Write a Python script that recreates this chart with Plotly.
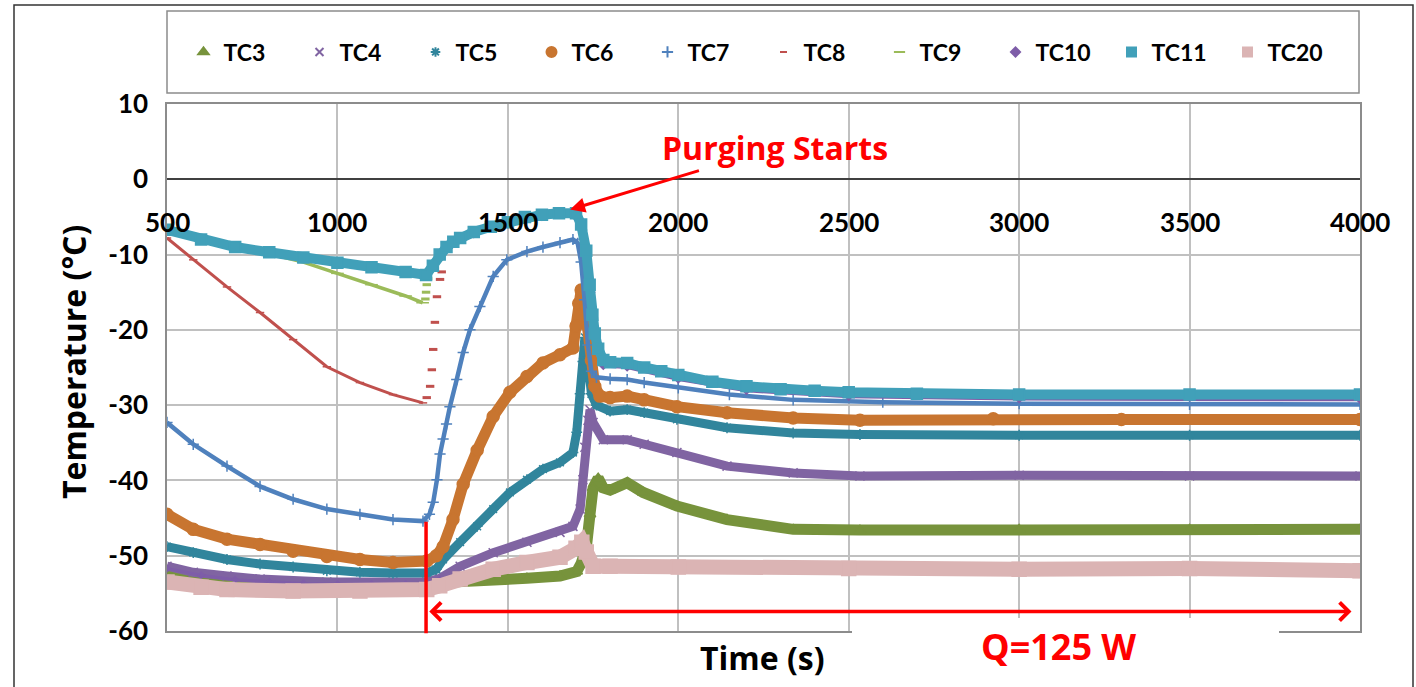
import plotly.graph_objects as go

# ---------------- data ----------------
TC3_T = [500, 600, 700, 800, 900, 1000, 1100, 1200, 1262, 1300, 1360, 1457, 1556, 1653, 1702, 1715, 1730, 1741, 1750, 1765, 1780, 1800, 1850, 1897, 1996, 2143, 2337, 2533, 3000, 3500, 4000]
TC3_V = [-52.2, -52.8, -53.2, -53.5, -53.7, -53.8, -53.8, -53.8, -53.7, -53.5, -53.5, -53.4, -53.0, -52.7, -52.1, -51.0, -49.0, -44.5, -41.0, -39.7, -41.0, -41.3, -40.3, -41.6, -43.4, -45.2, -46.5, -46.6, -46.5, -46.5, -46.5]

TC4_T = [500, 577, 676, 773, 969, 1163, 1262, 1300, 1360, 1457, 1556, 1653, 1691, 1712, 1720, 1726, 1735, 1741, 1750, 1780, 1850, 1900, 1996, 2143, 2337, 2533, 3000, 3500, 4000]
TC4_V = [-51.4, -52.2, -52.7, -53.1, -53.5, -53.5, -53.5, -53.0, -51.4, -49.6, -48.2, -46.9, -46.1, -43.8, -39.9, -35.6, -32.0, -30.6, -32.3, -34.6, -34.6, -35.2, -36.3, -38.1, -39.0, -39.4, -39.3, -39.4, -39.4]

TC5_T = [500, 577, 676, 773, 870, 969, 1066, 1163, 1262, 1290, 1310, 1360, 1410, 1457, 1506, 1556, 1603, 1653, 1691, 1702, 1712, 1720, 1726, 1735, 1745, 1760, 1800, 1850, 1900, 1996, 2143, 2337, 2533, 3000, 3500, 4000]
TC5_V = [-48.8, -49.6, -50.5, -51.1, -51.5, -52.0, -52.2, -52.3, -52.3, -51.8, -50.5, -48.2, -46.1, -43.8, -41.6, -39.9, -38.5, -37.6, -36.3, -33.6, -28.5, -24.2, -21.0, -24.0, -28.5, -30.0, -30.8, -30.6, -31.0, -31.9, -33.0, -33.7, -33.9, -34.0, -34.0, -34.0]

TC6_T = [500, 577, 676, 773, 870, 969, 1066, 1163, 1262, 1290, 1310, 1339, 1369, 1410, 1457, 1506, 1556, 1603, 1653, 1691, 1700, 1708, 1715, 1725, 1735, 1745, 1755, 1770, 1800, 1850, 1900, 1996, 2143, 2337, 2533, 2924, 3300, 4000]
TC6_V = [-44.5, -46.5, -47.8, -48.5, -49.4, -50.1, -50.5, -50.9, -50.7, -50.0, -48.8, -45.2, -40.5, -36.0, -31.5, -28.3, -26.2, -24.4, -23.3, -22.4, -19.5, -16.5, -14.7, -16.5, -19.5, -24.0, -27.5, -28.8, -29.0, -28.8, -29.3, -30.2, -31.0, -31.7, -32.0, -31.8, -31.9, -31.9]

TC7_T = [500, 577, 676, 773, 870, 969, 1066, 1163, 1251, 1270, 1281, 1292, 1301, 1310, 1320, 1330, 1350, 1369, 1389, 1418, 1457, 1497, 1556, 1603, 1653, 1691, 1705, 1715, 1725, 1735, 1745, 1760, 1800, 1850, 1900, 2000, 2150, 2337, 2600, 3000, 3500, 4000]
TC7_V = [-32.3, -35.2, -38.1, -40.8, -42.5, -43.8, -44.5, -45.2, -45.4, -44.5, -42.9, -39.9, -36.5, -34.5, -32.5, -30.2, -26.6, -23.0, -20.0, -16.9, -12.9, -10.7, -9.6, -9.0, -8.4, -8.0, -8.5, -11.0, -16.0, -22.0, -25.5, -26.3, -26.5, -26.6, -27.0, -27.7, -28.6, -29.3, -29.6, -29.8, -29.9, -29.9]

TC8_T = [500, 577, 676, 773, 870, 969, 1066, 1163, 1251]
TC8_V = [-7.8, -10.7, -14.3, -17.7, -21.3, -24.9, -27.0, -28.6, -29.7]
TC8_JUMP_T = [1262, 1272, 1277, 1281, 1286, 1292, 1301, 1306]
TC8_JUMP_V = [-29.0, -27.5, -25.3, -22.6, -19.0, -15.6, -13.3, -12.3]

TC9_T = [500, 600, 700, 800, 900, 1000, 1100, 1200, 1250]
TC9_V = [-6.7, -8.0, -9.0, -9.9, -11.0, -12.5, -14.0, -15.5, -16.4]
TC9_JUMP_T = [1258, 1260, 1262, 1266]
TC9_JUMP_V = [-15.9, -15.0, -14.0, -13.2]

TC10_T = [500, 600, 700, 800, 900, 1000, 1100, 1200, 1260, 1300, None, 1330, 1400, 1500, 1600, 1690, 1715, 1730, 1745, 1760, 1780, 1850, 2000, 2200, 2500, 3000, 4000]
TC10_V = [-51.7, -52.6, -53.2, -53.5, -53.7, -53.8, -53.8, -53.8, -53.7, -53.2, None, -9.0, -7.3, -6.0, -5.0, -4.7, -6.5, -10.0, -15.0, -21.0, -24.8, -25.0, -26.6, -28.1, -28.9, -29.2, -29.3]

TC11_T = [500, 600, 700, 800, 900, 1000, 1100, 1200, 1260, 1280, 1300, 1320, 1340, 1360, 1400, 1450, 1500, 1550, 1600, 1650, 1700, 1715, 1730, 1740, 1748, 1755, 1765, 1780, 1800, 1850, 1900, 1950, 2000, 2100, 2200, 2300, 2400, 2500, 2700, 3000, 3500, 4000]
TC11_V = [-6.7, -8.0, -9.0, -9.7, -10.4, -11.1, -11.7, -12.3, -12.7, -11.5, -10.0, -9.0, -8.3, -7.8, -7.0, -6.3, -5.7, -5.0, -4.7, -4.5, -4.5, -6.0, -9.5, -14.0, -18.0, -20.5, -22.5, -24.0, -24.3, -24.4, -25.0, -25.5, -26.0, -26.9, -27.5, -27.9, -28.1, -28.3, -28.5, -28.6, -28.6, -28.6]

TC20_T = [500, 600, 676, 870, 1066, 1262, 1300, 1360, 1457, 1556, 1653, 1700, 1717, 1730, 1750, 1800, 2000, 2500, 3000, 3500, 4000]
TC20_V = [-53.5, -54.2, -54.5, -54.7, -54.7, -54.5, -54.0, -53.1, -51.8, -50.9, -50.2, -49.0, -48.2, -49.5, -51.4, -51.4, -51.5, -51.7, -51.8, -51.7, -52.0]

X_TICKS = [500, 1000, 1500, 2000, 2500, 3000, 3500, 4000]
X_TICK_LABELS = ["500", "1000", "1500", "2000", "2500", "3000", "3500", "4000"]
Y_TICKS = [10, 0, -10, -20, -30, -40, -50, -60]
Y_TICK_LABELS = ["10", "0", "-10", "-20", "-30", "-40", "-50", "-60"]

PURGE_TIME = 1260          # red vertical line
PURGE_LINE_TOP = -45.5
HEAT_ARROW_START = 1265    # Q=125 W arrow
HEAT_ARROW_END = 3975
HEAT_ARROW_Y = -57.4
PURGE_POINT = (1677, -4.1)  # "Purging Starts" arrow tip
PURGE_TEXT = (2284, 4.2)

FONT = "Lato, 'Open Sans', sans-serif"
TITLE_FONT = "'Open Sans', Lato, sans-serif"

# series: name, x, y, color, symbol, marker size, line width
SERIES = [
    ("TC3", TC3_T, TC3_V, "#77933C", "triangle-up", 10, 11),
    ("TC4", TC4_T, TC4_V, "#8064A2", "x-thin-open", 9, 9),
    ("TC5", TC5_T, TC5_V, "#31859C", "asterisk-open", 9, 9),
    ("TC6", TC6_T, TC6_V, "#C87530", "circle", 12, 11),
    ("TC7", TC7_T, TC7_V, "#4F81BD", "cross-thin-open", 8, 4.5),
    ("TC8", TC8_T, TC8_V, "#C0504D", "line-ew-open", 6, 3),
    ("TC9", TC9_T, TC9_V, "#9BBB59", "line-ew-open", 9, 3.5),
    ("TC10", TC10_T, TC10_V, "#7E5DA8", "diamond", 5, 3),
    ("TC11", TC11_T, TC11_V, "#41A0B9", "square", 11, 10),
    ("TC20", TC20_T, TC20_V, "#DBB4B4", "square", 14, 15),
]
JUMPS = {"TC8": (TC8_JUMP_T, TC8_JUMP_V), "TC9": (TC9_JUMP_T, TC9_JUMP_V)}

fig = go.Figure()

for name, xs, ys, color, sym, msize, lw in SERIES:
    fig.add_trace(go.Scatter(
        x=xs, y=ys, mode="lines+markers", name=name, showlegend=False,
        line=dict(color=color, width=lw),
        marker=dict(symbol=sym, size=msize, color=color, line=dict(color=color, width=1.5)),
        connectgaps=False, hoverinfo="skip",
    ))
    if name in JUMPS:
        jx, jy = JUMPS[name]
        fig.add_trace(go.Scatter(
            x=jx, y=jy, mode="markers", name=name, showlegend=False,
            marker=dict(symbol="line-ew-open", size=6, color=color, line=dict(color=color, width=3)),
            hoverinfo="skip",
        ))

# legend-only entries (markers like the reference legend)
LEGEND_SIZES = {"TC3": 9, "TC4": 8, "TC5": 8, "TC6": 10, "TC7": 8, "TC8": 5, "TC9": 8, "TC10": 7, "TC11": 9, "TC20": 9}
for name, xs, ys, color, sym, msize, lw in SERIES:
    fig.add_trace(go.Scatter(
        x=[None], y=[None], mode="markers", name=name, showlegend=True,
        marker=dict(symbol=sym, size=LEGEND_SIZES[name], color=color, line=dict(color=color, width=2)),
    ))

W, H = 1416, 687
L, R, T, B = 167, 56, 104, 56
pw, ph = W - L - R, H - T - B

def px_x(p):
    return (p - L) / pw

def px_y(p):
    return (H - B - p) / ph

annotations = []
for v, lab in zip(X_TICKS, X_TICK_LABELS):
    annotations.append(dict(x=v, y=0, xref="x", yref="y", text=lab, showarrow=False,
                            xanchor="center", yanchor="middle",
                            yshift=-43, font=dict(size=26, family=FONT, color="black", weight="bold")))

annotations += [
    dict(x=px_x(73), y=px_y(362), xref="paper", yref="paper", text="Temperature (°C)", textangle=-90,
         xanchor="center", yanchor="middle",
         showarrow=False, font=dict(size=32, family=TITLE_FONT, color="black", weight="bold")),
    dict(x=px_x(762), y=px_y(657), xref="paper", yref="paper", text="Time (s)",
         xanchor="center", yanchor="middle",
         showarrow=False, font=dict(size=32, family=TITLE_FONT, color="black", weight="bold")),
    dict(x=px_x(1058), y=px_y(646), xref="paper", yref="paper", text="Q=125 W",
         xanchor="center", yanchor="middle",
         showarrow=False, font=dict(size=36, family=TITLE_FONT, color="#FF0000", weight="bold")),
    dict(x=PURGE_POINT[0], y=PURGE_POINT[1], xref="x", yref="y", ax=PURGE_TEXT[0], ay=PURGE_TEXT[1],
         axref="x", ayref="y", text="Purging Starts", showarrow=True, arrowhead=2, arrowsize=1,
         arrowwidth=3, arrowcolor="#FF0000", standoff=2,
         font=dict(size=32, family=TITLE_FONT, color="#FF0000", weight="bold")),
    dict(x=HEAT_ARROW_END, y=HEAT_ARROW_Y, xref="x", yref="y", ax=HEAT_ARROW_START, ay=HEAT_ARROW_Y,
         axref="x", ayref="y", text="", showarrow=True, arrowhead=4, startarrowhead=4,
         arrowside="end+start", arrowsize=1, startarrowsize=1, arrowwidth=3.5, arrowcolor="#FF0000"),
    dict(x=PURGE_TIME, y=PURGE_LINE_TOP, xref="x", yref="y", ax=0, ay=113, text="", showarrow=True,
         arrowhead=0, arrowwidth=3.5, arrowcolor="#FF0000", standoff=0, startstandoff=0),
]

shapes = [
    # outer frame
    dict(type="rect", xref="paper", yref="paper", x0=px_x(14), x1=px_x(1413), y0=px_y(700), y1=px_y(5),
         line=dict(color="#333333", width=1.5), fillcolor="rgba(0,0,0,0)", layer="below"),
    # legend box
    dict(type="rect", xref="paper", yref="paper", x0=px_x(167), x1=px_x(1359), y0=px_y(93), y1=px_y(11),
         line=dict(color="#8C8C8C", width=1.5), fillcolor="rgba(0,0,0,0)", layer="below"),
    # white box behind the Q label (hides axis line and gridlines)
    dict(type="rect", xref="paper", yref="paper", x0=px_x(852), x1=px_x(1279), y0=px_y(690), y1=px_y(618),
         line=dict(width=0), fillcolor="white", layer="above"),
]

fig.update_layout(
    width=W, height=H,
    margin=dict(l=L, r=R, t=T, b=B),
    paper_bgcolor="white", plot_bgcolor="white",
    font=dict(family=FONT, size=24, color="black", weight="bold"),
    showlegend=True,
    legend=dict(orientation="h", x=0.5, xanchor="center", y=px_y(52), yanchor="middle",
                font=dict(size=23, family=FONT, color="black", weight="bold"),
                bgcolor="rgba(0,0,0,0)", borderwidth=0, entrywidth=71, itemsizing="trace"),
    xaxis=dict(range=[500, 4000], tickvals=X_TICKS, showticklabels=False, ticks="",
               showgrid=True, gridcolor="#C0C0C0", gridwidth=1.5, zeroline=False,
               showline=True, linecolor="#8C8C8C", linewidth=1.5, mirror=True),
    yaxis=dict(range=[-60, 10], tickvals=Y_TICKS, ticktext=Y_TICK_LABELS, ticks="",
               tickfont=dict(size=26, family=FONT, color="black", weight="bold"), ticklabelstandoff=12,
               showgrid=True, gridcolor="#C0C0C0", gridwidth=1.5,
               zeroline=True, zerolinecolor="#404040", zerolinewidth=1.5,
               showline=True, linecolor="#8C8C8C", linewidth=1.5, mirror=True),
    annotations=annotations, shapes=shapes,
)

fig.write_html("out.html", config={"displayModeBar": False},
               post_script="document.body.style.margin='0';document.body.style.overflow='hidden';")
